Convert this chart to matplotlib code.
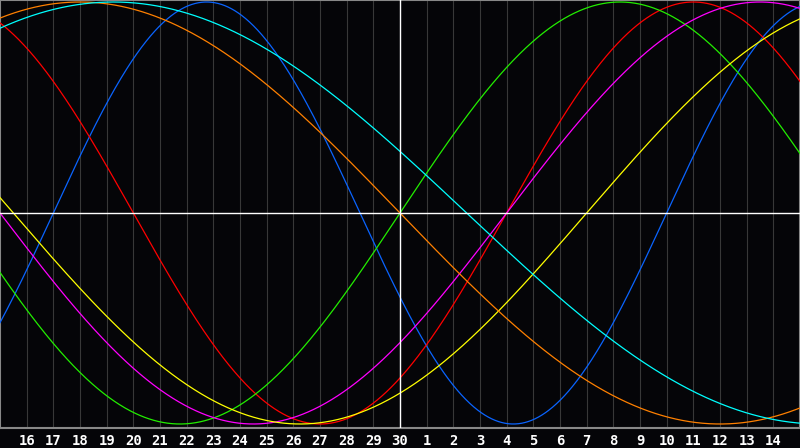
import numpy as np
import matplotlib
matplotlib.use("Agg")
import matplotlib.pyplot as plt

# Biorhythm cycles (period in days) and their colours
periods = [23, 28, 33, 38, 43, 48, 53]
colors = ["#0a64ff", "#ff0000", "#22ee00", "#ff00ff", "#ffff00", "#ff8000", "#00ffff"]

# Days since birth on the centre day ("30")
days_since_birth_center = 35640

# Day labels on the x axis (grid positions 1..29)
day_labels = [str(d) for d in range(16, 31)] + [str(d) for d in range(1, 15)]
center_index = 15

fig = plt.figure(figsize=(8, 4.48), dpi=100)
fig.patch.set_facecolor("#050508")
ax = fig.add_axes([0, 20 / 448, 1, 428 / 448])
ax.set_facecolor("#050508")

ax.set_xlim(0, 30)
ax.set_ylim(-1 - 4 / 211, 1 + 2 / 211)

# grid lines
for k in range(1, 30):
    ax.axvline(k, color="#383838", lw=0.8, zorder=1)

k = np.linspace(0, 30, 1200)
t = days_since_birth_center + (k - center_index)
for p, c in zip(periods, colors):
    ax.plot(k, np.sin(2 * np.pi * t / p), color=c, lw=0.9, zorder=3)

ax.axvline(center_index, color="white", lw=1.0, zorder=4)
ax.axhline(0, color="white", lw=1.0, zorder=4)

for s in ax.spines.values():
    s.set_color("#888888")
    s.set_linewidth(1.5)

ax.set_xticks(range(1, 30))
ax.set_xticklabels(day_labels, family="DejaVu Sans Mono", fontweight="bold")
ax.set_yticks([])
ax.tick_params(axis="x", length=0, pad=4, colors="white", labelsize=10)

fig.savefig("out.png", dpi=100, facecolor=fig.get_facecolor())
